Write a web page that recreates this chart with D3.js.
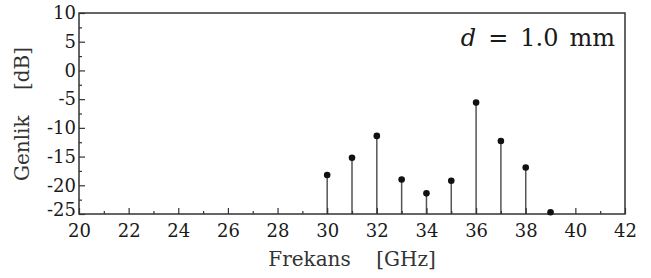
<!DOCTYPE html>
<html>
<head>
<meta charset="utf-8">
<script src="https://cdn.jsdelivr.net/npm/d3@7"></script>
<style>
  body { margin: 0; background: #fff; }
</style>
</head>
<body>
<script>
const width = 651;
const height = 278;

// data
const frequencies = [30, 31, 32, 33, 34, 35, 36, 37, 38, 39];
const amplitudes = [-18.2, -15.2, -11.4, -19.0, -21.4, -19.2, -5.6, -12.3, -16.9, -24.7];
const xTicks = [20, 22, 24, 26, 28, 30, 32, 34, 36, 38, 40, 42];
const yTicks = [10, 5, 0, -5, -10, -15, -20, -25];

const serif = "'DejaVu Serif', 'Liberation Serif', serif";
const plotLeft = 79, plotRight = 625, plotTop = 13, plotBottom = 214;

const svg = d3.select('body')
  .append('svg')
  .attr('width', width)
  .attr('height', height);

const x = d3.scaleLinear().domain([20, 42]).range([plotLeft, plotRight]);
const y = d3.scaleLinear().domain([-25, 10]).range([plotBottom, plotTop]);

// stems
svg.append('g')
  .selectAll('line')
  .data(frequencies)
  .enter()
  .append('line')
  .attr('x1', d => x(d))
  .attr('x2', d => x(d))
  .attr('y1', y(-25))
  .attr('y2', (d, i) => y(amplitudes[i]))
  .attr('stroke', '#555')
  .attr('stroke-width', 1.5);

const fmt = d => String(d); // plain hyphen like the original

// bottom axis, ticks pointing inward
const xAxis = svg.append('g')
  .attr('transform', `translate(0,${plotBottom})`)
  .call(d3.axisBottom(x).tickValues(xTicks).tickSize(-6).tickPadding(10).tickFormat(fmt));

const xMinor = svg.append('g')
  .attr('transform', `translate(0,${plotBottom})`)
  .call(d3.axisBottom(x).tickValues(d3.range(21, 42, 2)).tickSize(-3).tickFormat(''));

// left axis
const yAxis = svg.append('g')
  .attr('transform', `translate(${plotLeft},0)`)
  .call(d3.axisLeft(y).tickValues(yTicks).tickSize(-6).tickPadding(3).tickFormat(fmt));

const yMinor = svg.append('g')
  .attr('transform', `translate(${plotLeft},0)`)
  .call(d3.axisLeft(y).tickValues(d3.range(-22.5, 10, 5)).tickSize(-3).tickFormat(''));

[xAxis, yAxis].forEach(g => {
  g.attr('font-family', serif).attr('font-size', 18);
  g.selectAll('text').attr('fill', '#1a1a1a');
});
// -25 sits a little above the corner in the original
yAxis.selectAll('.tick').filter(d => d === -25).select('text').attr('dy', '0.1em');

[xAxis, xMinor, yAxis, yMinor].forEach(g => {
  g.select('.domain').remove();
  g.selectAll('line').attr('stroke', '#333').attr('stroke-width', 1.2);
});

// frame
svg.append('rect')
  .attr('x', plotLeft)
  .attr('y', plotTop)
  .attr('width', plotRight - plotLeft)
  .attr('height', plotBottom - plotTop)
  .attr('fill', 'none')
  .attr('stroke', '#333')
  .attr('stroke-width', 1.5);

// dots
svg.append('g')
  .selectAll('circle')
  .data(frequencies)
  .enter()
  .append('circle')
  .attr('cx', d => x(d))
  .attr('cy', (d, i) => y(amplitudes[i]))
  .attr('r', 3.3)
  .attr('fill', '#111');

// axis titles
svg.append('text')
  .attr('x', (plotLeft + plotRight) / 2)
  .attr('y', 266)
  .attr('text-anchor', 'middle')
  .attr('font-family', serif)
  .attr('font-size', 20)
  .attr('fill', '#333')
  .style('white-space', 'pre')
  .text('Frekans    [GHz]');

svg.append('text')
  .attr('transform', `translate(29,${114}) rotate(-90)`)
  .attr('text-anchor', 'middle')
  .attr('font-family', serif)
  .attr('font-size', 20)
  .attr('fill', '#333')
  .style('white-space', 'pre')
  .text('Genlik    [dB]');

// annotation
const note = svg.append('text')
  .attr('x', 615)
  .attr('y', 46)
  .attr('text-anchor', 'end')
  .attr('font-family', serif)
  .attr('font-size', 24)
  .attr('fill', '#1a1a1a')
  .style('white-space', 'pre');
note.append('tspan').attr('font-style', 'italic').text('d');
note.append('tspan').attr('dx', 12).text('=');
note.append('tspan').attr('dx', 12).text('1.0');
note.append('tspan').attr('dx', 11).text('mm');
</script>
</body>
</html>
